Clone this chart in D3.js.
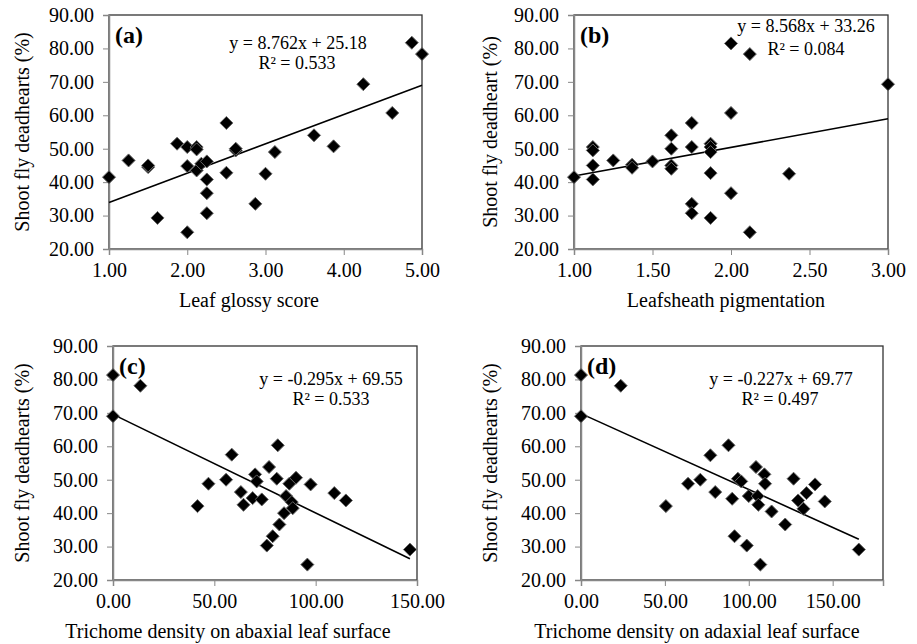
<!DOCTYPE html>
<html lang="en">
<head>
<meta charset="UTF-8">
<title>Shoot fly deadhearts scatter panels</title>
<script src="https://d3js.org/d3.v7.min.js"></script>
<style>
    body { margin: 0; background: #fff; }
    svg, svg text { font-family: "Liberation Serif", "Times New Roman", serif; }
    .tick text { font-size: 20px; fill: #000; font-family: "Liberation Serif", serif; }
    .axis path, .axis line { stroke: #878787; }
    .axis-title { font-size: 20px; }
    .eq { font-size: 18px; }
    .panel-tag { font-size: 24px; font-weight: bold; }
</style>
</head>
<body>
<div id="chart"></div>
<script>
// panel (a): leaf glossy score vs deadhearts
const glossyX = [1.00,1.25,1.50,1.50,1.62,1.87,2.00,2.00,2.00,2.12,2.12,2.12,2.18,2.25,2.25,2.25,2.25,2.50,2.50,2.62,2.62,2.87,3.00,3.12,3.62,3.87,4.25,4.62,4.87,5.00];
const glossyY = [41.5,46.5,44.5,45.0,29.3,51.5,50.5,44.8,25.0,50.5,49.8,43.5,45.5,46.2,40.8,36.7,30.7,57.7,42.8,49.5,50.0,33.5,42.5,49.0,54.0,50.7,69.3,60.7,81.7,78.3];

// panel (b): leafsheath pigmentation
const pigX = [1.00,1.12,1.12,1.12,1.12,1.25,1.37,1.37,1.50,1.62,1.62,1.62,1.62,1.75,1.75,1.75,1.75,1.87,1.87,1.87,1.87,1.87,2.00,2.00,2.00,2.12,2.12,2.37,3.00];
const pigY = [41.5,50.5,49.5,45.0,40.8,46.5,45.2,44.3,46.2,54.0,50.0,45.0,44.0,57.7,50.5,33.5,30.7,51.5,50.5,49.0,42.7,29.3,81.5,60.7,36.7,78.3,25.0,42.5,69.3];

// panel (c): trichome density, abaxial
const abaxX = [0,13.5,0,41.7,47.1,55.8,58.6,63.1,64.4,68.9,70.1,70.9,73.4,77.0,75.9,78.8,80.8,81.3,82.1,84.4,85.4,87.0,88.2,88.7,90.3,95.9,97.5,109.2,114.9,146.5];
const abaxY = [81.3,78.1,69.0,42.1,48.8,50.0,57.5,46.3,42.5,44.5,51.6,49.5,44.1,53.8,30.3,33.1,50.3,60.3,36.6,40.0,45.1,48.8,43.3,41.5,50.6,24.6,48.6,46.0,43.8,29.1];

// panel (d): trichome density, adaxial
const adaxX = [0,23.7,0,50.6,63.8,71.1,77.1,80.0,87.9,90.1,91.5,93.5,95.5,98.8,100.0,104.3,105.3,105.7,106.9,109.3,109.7,113.6,121.7,126.7,129.4,132.6,134.4,139.5,145.3,165.6];
const adaxY = [81.3,78.1,69.0,42.1,48.8,50.0,57.3,46.3,60.3,44.3,33.1,50.3,49.5,30.3,45.1,53.8,45.1,42.5,24.6,51.6,48.8,40.5,36.6,50.3,43.8,41.3,46.0,48.6,43.5,29.1];

// trendline coefficients [slope, intercept] and labels
const fits = { a: [8.762, 25.18], b: [8.568, 33.26], c: [-0.295, 69.55], d: [-0.227, 69.77] };
const eqText = {
    a: ["y = 8.762x + 25.18", "R² = 0.533"],
    b: ["y = 8.568x + 33.26", "R² = 0.084"],
    c: ["y = -0.295x + 69.55", "R² = 0.533"],
    d: ["y = -0.227x + 69.77", "R² = 0.497"]
};
const yTicks = [20, 30, 40, 50, 60, 70, 80, 90];

const svg = d3.select("#chart").append("svg")
    .attr("width", 917).attr("height", 644);

// box = [left, right, top, bottom]; titles are not centred on the plot in the original
const panels = [
    { key: "a", xs: glossyX, ys: glossyY, dom: [1, 5], ticks: [1, 2, 3, 4, 5],
      box: [109, 422, 15, 249], xTitle: "Leaf glossy score", yTitle: "Shoot fly deadhearts (%)",
      xTitleX: 249, yTitleX: 22, eq: [298, 49, 297, 69] },
    { key: "b", xs: pigX, ys: pigY, dom: [1, 3], ticks: [1, 1.5, 2, 2.5, 3],
      box: [574, 888, 15, 249], xTitle: "Leafsheath pigmentation", yTitle: "Shoot fly deadheart (%)",
      xTitleX: 726, yTitleX: 490, eq: [806, 32, 806, 55] },
    { key: "c", xs: abaxX, ys: abaxY, dom: [0, 150], ticks: [0, 50, 100, 150],
      box: [113, 417, 346, 580], xTitle: "Trichome density on abaxial leaf surface", yTitle: "Shoot fly deadhearts (%)",
      xTitleX: 228, yTitleX: 22, eq: [331, 385, 331, 405] },
    { key: "d", xs: adaxX, ys: adaxY, dom: [0, 180], ticks: [0, 50, 100, 150],
      box: [581, 883, 346, 580], xTitle: "Trichome density on adaxial leaf surface", yTitle: "Shoot fly deadhearts (%)",
      xTitleX: 697, yTitleX: 490, eq: [781, 385, 780, 405] }
];

const diamond = r => `M0,${-r}L${r},0L0,${r}L${-r},0Z`;

// d3 axes put sans-serif on the group; drop it so the serif face is inherited
const plainFont = g => g.attr("font-family", null).attr("font-size", null);

panels.forEach(p => {
    const [x0, x1, y0, y1] = p.box;
    const x = d3.scaleLinear().domain(p.dom).range([x0, x1]);
    const y = d3.scaleLinear().domain([20, 90]).range([y1, y0]);

    // plot area border
    svg.append("rect")
        .attr("x", x0).attr("y", y0)
        .attr("width", x1 - x0).attr("height", y1 - y0)
        .attr("fill", "none").attr("stroke", "#333").attr("stroke-width", 1.3);

    svg.append("g").attr("class", "axis")
        .attr("transform", `translate(${x0},0)`)
        .call(d3.axisLeft(y).tickValues(yTicks).tickFormat(d3.format(".2f")).tickSize(6).tickPadding(9))
        .call(plainFont)
        .call(g => g.select(".domain").attr("stroke-width", 1.5));

    svg.append("g").attr("class", "axis")
        .attr("transform", `translate(0,${y1})`)
        .call(d3.axisBottom(x).tickValues(p.ticks).tickFormat(d3.format(".2f")).tickSize(6).tickPadding(8))
        .call(plainFont)
        .call(g => g.select(".domain").attr("stroke-width", 1.5));

    // trendline over the x range of the data
    const [m, b] = fits[p.key];
    const ext = d3.extent(p.xs);
    svg.append("line")
        .attr("x1", x(ext[0])).attr("y1", y(m * ext[0] + b))
        .attr("x2", x(ext[1])).attr("y2", y(m * ext[1] + b))
        .attr("stroke", "#000").attr("stroke-width", 1.6);

    svg.append("g").selectAll("path")
        .data(p.xs.map((v, i) => [v, p.ys[i]]))
        .join("path")
        .attr("transform", d => `translate(${x(d[0])},${y(d[1])})`)
        .attr("d", diamond(6.5))
        .attr("fill", "#000")
        .attr("stroke", "#666")
        .attr("stroke-width", 1);

    svg.append("text").attr("class", "panel-tag")
        .attr("x", x0 + 6).attr("y", y0 + 28)
        .text(`(${p.key})`);

    const [ex, ey, rx, ry] = p.eq;
    svg.append("text").attr("class", "eq").attr("text-anchor", "middle")
        .attr("x", ex).attr("y", ey).text(eqText[p.key][0]);
    svg.append("text").attr("class", "eq").attr("text-anchor", "middle")
        .attr("x", rx).attr("y", ry).text(eqText[p.key][1]);

    svg.append("text").attr("class", "axis-title").attr("text-anchor", "middle")
        .attr("x", p.xTitleX).attr("y", y1 + 58)
        .text(p.xTitle);

    svg.append("text").attr("class", "axis-title").attr("text-anchor", "middle")
        .attr("transform", `translate(${p.yTitleX},${(y0 + y1) / 2}) rotate(-90)`)
        .attr("dy", "0.35em")
        .text(p.yTitle);
});
</script>
</body>
</html>
